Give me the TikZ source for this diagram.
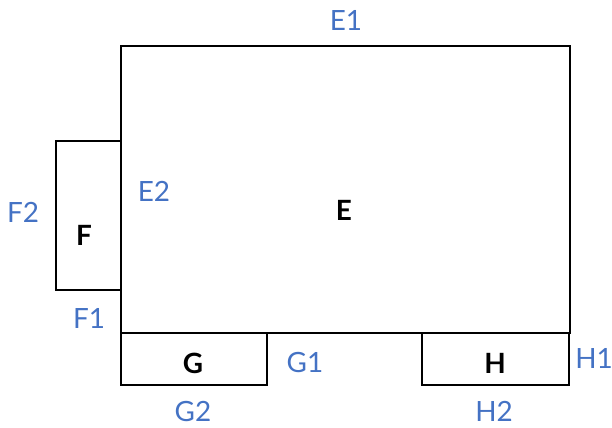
\documentclass[tikz,border=0pt]{standalone}
\usepackage{fontspec}
\setmainfont{Lato}
\definecolor{tagblue}{HTML}{4472C4}
\tikzset{
  room/.style={draw,line width=2.2bp,inner sep=0pt,anchor=north west},
  tag/.style={text=tagblue,font=\fontsize{28}{32}\selectfont},
  roomname/.style={font=\bfseries\fontsize{28}{32}\selectfont}
}
\begin{document}
\begin{tikzpicture}[x=1bp,y=-1bp]
\useasboundingbox (0,0) rectangle (612,427);
\node[room,minimum width=449bp,minimum height=287bp] (E) at (119.5,45){};
\node[room,minimum width=65bp,minimum height=149bp] (F) at (54.5,140){};
\node[room,minimum width=146bp,minimum height=52bp] (G) at (119.5,332){};
\node[room,minimum width=147bp,minimum height=52bp] (H) at (420.5,332){};
\node[roomname] (Elbl) at (344,210){E};
\node[roomname] (Flbl) at (84,235){F};
\node[roomname] (Glbl) at (193,363){G};
\node[roomname] (Hlbl) at (495,363){H};
\node[tag] (E1) at (346,20){E1};
\node[tag] (E2) at (154,191){E2};
\node[tag] (F1) at (89,318){F1};
\node[tag] (F2) at (23,212){F2};
\node[tag] (G1) at (305,362){G1};
\node[tag] (G2) at (193,411){G2};
\node[tag] (H1) at (594,358){H1};
\node[tag] (H2) at (494,411){H2};
\end{tikzpicture}
\end{document}
